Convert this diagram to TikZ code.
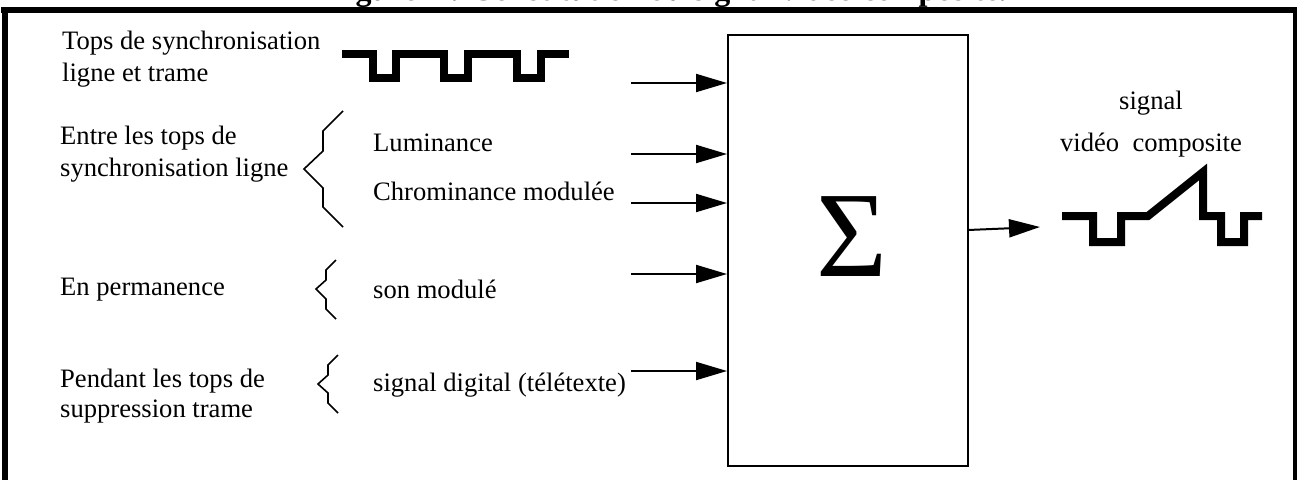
\documentclass[tikz,border=0pt]{standalone}
\usepackage{fontspec}
\setmainfont{Liberation Serif}
\usetikzlibrary{arrows.meta}
\begin{document}
\begin{tikzpicture}[x=1pt,y=-1pt,
  lbl/.style={anchor=west,inner sep=0pt,font=\fontsize{26.6}{31}\selectfont},
  ctr/.style={inner sep=0pt,font=\fontsize{26.6}{31}\selectfont},
  arr/.style={line width=2pt,-{Triangle[length=31pt,width=18pt]}},
  wave/.style={line width=8pt,miter limit=10},
  zig/.style={line width=1.6pt},
  frameline/.style={line width=6pt}]
\useasboundingbox (0,0) rectangle (1298,480);
\clip (0,0) rectangle (1298,480);
% title (clipped by the page top, as in the reference)
\node[anchor=base,inner sep=0pt,font=\bfseries\fontsize{32}{36}\selectfont] (title) at (667,0.5) {Figure 1 : Constitution du signal vidéo composite.};
% frame
\draw[frameline] (1,10) -- (1297,10);
\draw[frameline] (5,7) -- (5,480);
\draw[line width=4pt] (1295,8) -- (1295,480);
% left texts
\node[lbl] (t1) at (62,43) {Tops de synchronisation};
\node[lbl] (t2) at (62,75) {ligne et trame};
\node[lbl] (t3) at (60,138) {Entre les tops de};
\node[lbl] (t4) at (60,170) {synchronisation ligne};
\node[lbl] (t5) at (60,290) {En permanence};
\node[lbl] (t6) at (60,381) {Pendant les tops de};
\node[lbl] (t7) at (60,412) {suppression trame};
% middle texts
\node[lbl] (m1) at (373,143) {Luminance};
\node[lbl] (m2) at (373,191) {Chrominance modulée};
\node[lbl] (m3) at (373,289) {son modulé};
\node[lbl] (m4) at (373,385) {signal digital (télétexte)};
% right texts
\node[ctr] (r1) at (1151,103) {signal};
\node[ctr] (r2) at (1151,145) {vidéo\ \ composite};
% brackets
\draw[zig] (343,111) -- (323,131) -- (323,151) -- (304,169) -- (323,188) -- (323,207) -- (343,227);
\draw[zig] (336,260) -- (326,270) -- (326,280) -- (316,289) -- (326,299) -- (326,309) -- (336,319);
\draw[zig] (338,355) -- (328,365) -- (328,375) -- (318,384) -- (328,393) -- (328,403) -- (338,413);
% sync wave
\draw[wave] (342,54) -- (373,54) -- (373,78) -- (396,78) -- (396,54) -- (444,54) -- (444,78) -- (468,78) -- (468,54) -- (517,54) -- (517,78) -- (541,78) -- (541,54) -- (569,54);
% composite wave
\draw[wave] (1062,216) -- (1093,216) -- (1093,242) -- (1121,242) -- (1121,216) -- (1148,216) -- (1203,172) -- (1203,216) -- (1221,216) -- (1221,242) -- (1244,242) -- (1244,216) -- (1262,216);
% summing box
\node[draw,line width=2pt,minimum width=240pt,minimum height=431pt,inner sep=0pt] (box) at (848,250.5) {};
\node[inner sep=0pt,font=\fontsize{122}{130}\selectfont] (sigma) at (852,237) {Σ};
% inputs
\coordinate (i1) at (631,83);
\coordinate (i2) at (631,154);
\coordinate (i3) at (631,203);
\coordinate (i4) at (631,274);
\coordinate (i5) at (631,371);
\foreach \i in {1,...,5} \draw[arr] (i\i) -- (i\i -| box.west);
% output
\coordinate (o1) at (968,230);
\coordinate (o2) at (1040,227);
\draw[arr] (o1) -- (o2);
\end{tikzpicture}
\end{document}
